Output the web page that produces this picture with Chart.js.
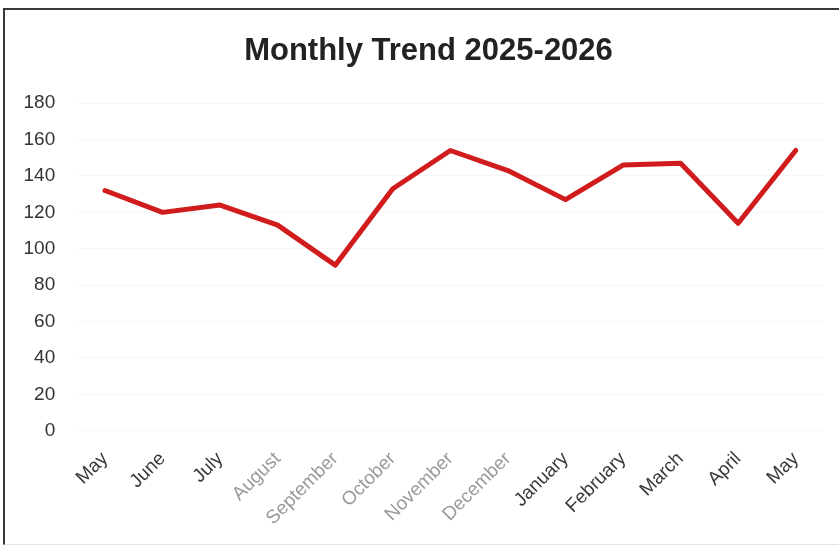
<!DOCTYPE html>
<html>
<head>
<meta charset="utf-8">
<script src="https://cdn.jsdelivr.net/npm/chart.js@4"></script>
<style>
  html, body { margin: 0; padding: 0; background: #fff; overflow: hidden; }
  #box {
    position: absolute; left: 3px; top: 8px;
    width: 847px; height: 534px;
    border-left: 2px solid #3a3a3a;
    border-top: 2px solid #3a3a3a;
    border-bottom: 1px solid #e2e2e2;
  }
</style>
</head>
<body>
<div id="box"><canvas id="trend"></canvas></div>
<script>
// chart data
const months = ['May', 'June', 'July', 'August', 'September', 'October', 'November',
                'December', 'January', 'February', 'March', 'April', 'May'];
const values = [132, 120, 124, 113, 91, 133, 154, 143, 127, 146, 147, 114, 154];
const yTicks = [0, 20, 40, 60, 80, 100, 120, 140, 160, 180];

// labels that came out faded in the scan
const faded = [3, 4, 5, 6, 7];

document.addEventListener('DOMContentLoaded', () => {
    new Chart(document.getElementById('trend').getContext('2d'), {
        type: 'line',
        data: {
            labels: months,
            datasets: [{
                label: 'Monthly Trend',
                data: values,
                borderColor: '#d01c1c',
                borderWidth: 5,
                pointRadius: 0,
                borderJoinStyle: 'round',
                borderCapStyle: 'round',
                fill: false,
                tension: 0
            }]
        },
        options: {
            responsive: true,
            maintainAspectRatio: false,
            animation: false,
            layout: { padding: 0 },
            plugins: {
                legend: { display: false },
                tooltip: { enabled: false },
                title: {
                    display: true,
                    text: 'Monthly Trend 2025-2026',
                    color: '#222',
                    font: { family: 'Liberation Sans', size: 31, weight: 'bold' },
                    padding: { top: 23, bottom: 33 }
                }
            },
            scales: {
                x: {
                    offset: true,
                    grid: { display: false },
                    border: { display: false },
                    ticks: {
                        minRotation: 45,
                        maxRotation: 45,
                        autoSkip: false,
                        padding: 9,
                        color: ctx => faded.includes(ctx.index) ? '#9a9a9a' : '#3a3a3a',
                        font: { family: 'Liberation Sans', size: 19 }
                    },
                    afterFit: scale => { scale.height = 113.3; }
                },
                y: {
                    min: yTicks[0],
                    max: yTicks[yTicks.length - 1],
                    afterBuildTicks: scale => { scale.ticks = yTicks.map(v => ({ value: v })); },
                    grid: { color: '#f6f6f6', drawTicks: false },
                    border: { display: false },
                    ticks: {
                        padding: 21,
                        color: '#333',
                        font: { family: 'Liberation Sans', size: 19 }
                    },
                    afterFit: scale => { scale.width = 71.2; }
                },
                // empty right-hand strip so the plot stops short of the edge
                yRight: {
                    position: 'right',
                    grid: { display: false },
                    border: { display: false },
                    ticks: { display: false },
                    afterFit: scale => { scale.width = 27.5; }
                }
            }
        }
    });
});
</script>
</body>
</html>
